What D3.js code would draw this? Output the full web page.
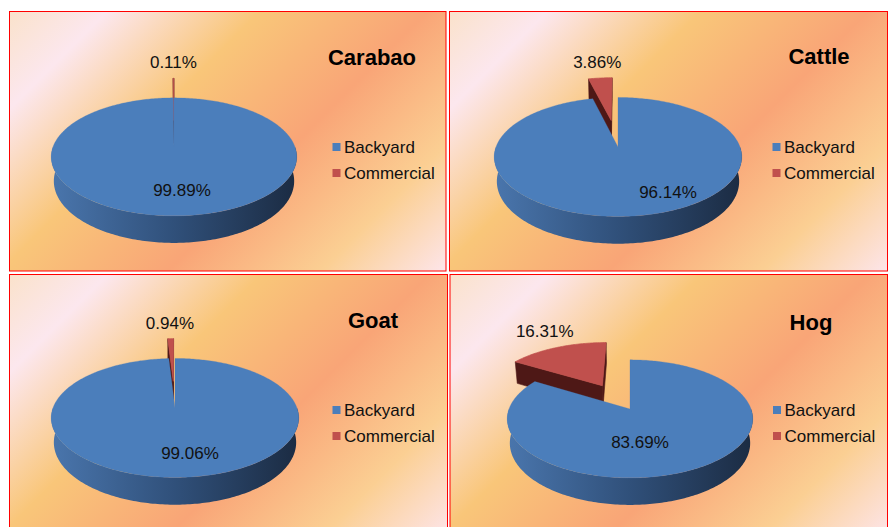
<!DOCTYPE html>
<html>
<head>
<meta charset="utf-8">
<script src="https://cdn.jsdelivr.net/npm/d3@7"></script>
<style>
body {margin: 0; background: #fff;}
svg {display: block; font-family: Arial, "Liberation Sans", sans-serif;}
</style>
</head>
<body>
<svg width="889" height="527"></svg>
<script>
var animals = ["Carabao", "Cattle", "Goat", "Hog"]
var categories = ["Backyard", "Commercial"]
var backyard = [99.89, 96.14, 99.06, 83.69]
var commercial = [0.11, 3.86, 0.94, 16.31]

// page layout of the four boxes (pie centre, radius, title spot, inside label nudge)
var panels = [
    {x: 9.5, y: 11.5, w: 436.5, h: 259.5, cx: 174, cy: 147, r: 121, tx: 372, ty: 57, lab: [8, 43]},
    {x: 449.5, y: 11.5, w: 438, h: 259.5, cx: 618, cy: 147, r: 122, tx: 819, ty: 56, lab: [50, 45]},
    {x: 9.5, y: 274.5, w: 438, h: 262, cx: 175, cy: 408, r: 122, tx: 373, ty: 320, lab: [15, 45]},
    {x: 450, y: 274.5, w: 437.5, h: 262, cx: 630, cy: 409, r: 121, tx: 811, ty: 322, lab: [10, 33]}
]

// fake 3d camera
var sinA = 0.474, cosA = Math.sqrt(1 - sinA * sinA), dist = 5.27, thick = 0.23

var topColor = d3.scaleOrdinal(categories, ["#4b7ebb", "#c0504d"])
var faceColor = d3.scaleOrdinal(categories, ["#2a4466", "#4e1816"])
var explode = d3.scaleOrdinal(categories, [0, 0.5])

var pie = d3.pie().sort(null).value(function(d) {return d.value})
var line = d3.line()

var svg = d3.select("svg")
var defs = svg.append("defs")

var project = function(p, X, Y, Z)
{
    var yp = Y * cosA + Z * sinA
    var d = Z * cosA - Y * sinA
    var f = dist / (dist + d)
    return [p.cx + X * p.r * f, p.cy - yp * p.r * f]
}

var arcPoints = function(p, a0, a1, Y, ox, oz)
{
    var n = Math.max(2, Math.ceil((a1 - a0) / (Math.PI / 180)))
    var pts = []
    for (var k = 0; k <= n; k++)
    {
        var a = a0 + (a1 - a0) * k / n
        pts.push(project(p, ox + Math.sin(a), Y, oz + Math.cos(a)))
    }
    return pts
}

var drawSlice = function(g, p, s, sideFill)
{
    var cat = s.data.cat
    var mid = (s.startAngle + s.endAngle) / 2
    var e = explode(cat)
    var ox = e * Math.sin(mid), oz = e * Math.cos(mid)

    // cut faces
    var faces = [
        {a: s.startAngle, n: [-Math.cos(s.startAngle), Math.sin(s.startAngle)]},
        {a: s.endAngle, n: [Math.cos(s.endAngle), -Math.sin(s.endAngle)]}
    ]
    faces.forEach(function(f)
    {
        var px = ox + 0.5 * Math.sin(f.a), pz = oz + 0.5 * Math.cos(f.a)
        var vis = f.n[0] * (0 - px) + f.n[1] * (-dist * cosA - pz)
        if (vis <= 0) return
        var pts = [
            project(p, ox, 0, oz),
            project(p, ox + Math.sin(f.a), 0, oz + Math.cos(f.a)),
            project(p, ox + Math.sin(f.a), -thick, oz + Math.cos(f.a)),
            project(p, ox, -thick, oz)
        ]
        g.append("path")
            .attr("d", line(pts) + "Z")
            .attr("fill", faceColor(cat))
            .attr("stroke", faceColor(cat))
            .attr("stroke-width", 0.6)
    })

    // outer wall, front half only
    var lo = Math.max(s.startAngle, Math.PI / 2)
    var hi = Math.min(s.endAngle, Math.PI * 1.5)
    if (hi > lo)
    {
        var wall = arcPoints(p, lo, hi, 0, ox, oz)
            .concat(arcPoints(p, lo, hi, -thick, ox, oz).reverse())
        g.append("path")
            .attr("d", line(wall) + "Z")
            .attr("fill", sideFill)
    }

    // top
    var topPts = [project(p, ox, 0, oz)].concat(arcPoints(p, s.startAngle, s.endAngle, 0, ox, oz))
    g.append("path")
        .attr("d", line(topPts) + "Z")
        .attr("fill", topColor(cat))
        .attr("stroke", topColor(cat))
        .attr("stroke-width", cat == "Commercial" ? 0.7 : 0.3)

    return {mid: mid, ox: ox, oz: oz}
}

panels.forEach(function(p, i)
{
    var bg = defs.append("linearGradient")
        .attr("id", "bg" + i)
        .attr("gradientUnits", "userSpaceOnUse")
        .attr("x1", p.x).attr("y1", p.y)
        .attr("x2", p.x + (p.w + p.h) / 2).attr("y2", p.y + (p.w + p.h) / 2)
    var bgStops = [[0, "#fae2cb"], [0.14, "#fce7ee"], [0.36, "#f9c679"], [0.6, "#f9a577"], [0.82, "#fbcf93"], [1, "#fde5ea"]]
    bgStops.forEach(function(st)
    {
        bg.append("stop").attr("offset", st[0]).attr("stop-color", st[1])
    })

    var side = defs.append("linearGradient")
        .attr("id", "side" + i)
        .attr("gradientUnits", "userSpaceOnUse")
        .attr("x1", p.cx - p.r * 1.02).attr("y1", 0)
        .attr("x2", p.cx + p.r * 1.02).attr("y2", 0)
    side.append("stop").attr("offset", 0).attr("stop-color", "#4a76ad")
    side.append("stop").attr("offset", 0.5).attr("stop-color", "#30507a")
    side.append("stop").attr("offset", 1).attr("stop-color", "#1b2b42")

    var g = svg.append("g")

    g.append("rect")
        .attr("x", p.x).attr("y", p.y)
        .attr("width", p.w).attr("height", p.h)
        .attr("fill", "url(#bg" + i + ")")
        .attr("stroke", "#ff0000")
        .attr("stroke-width", 1)

    var rows = categories.map(function(c, j)
    {
        return {cat: c, value: j == 0 ? backyard[i] : commercial[i]}
    })
    var slices = pie(rows)

    // exploded commercial slice sits behind, so it goes first
    var info = {}
    slices.slice().reverse().forEach(function(s)
    {
        var sideFill = s.data.cat == "Backyard" ? "url(#side" + i + ")" : "#8a3533"
        info[s.data.cat] = drawSlice(g, p, s, sideFill)
    })

    // labels
    var red = info["Commercial"]
    var outer = project(p, red.ox + Math.sin(red.mid), 0, red.oz + Math.cos(red.mid))
    g.append("text")
        .attr("x", outer[0] + Math.sin(red.mid) * 25)
        .attr("y", outer[1] - 16)
        .attr("dy", "0.35em")
        .attr("text-anchor", "middle")
        .attr("font-size", "17px")
        .attr("fill", "#111")
        .text(commercial[i].toFixed(2) + "%")

    g.append("text")
        .attr("x", p.cx + p.lab[0])
        .attr("y", p.cy + p.lab[1])
        .attr("dy", "0.35em")
        .attr("text-anchor", "middle")
        .attr("font-size", "17px")
        .attr("fill", "#111")
        .text(backyard[i].toFixed(2) + "%")

    // title
    g.append("text")
        .attr("x", p.tx)
        .attr("y", p.ty)
        .attr("dy", "0.35em")
        .attr("text-anchor", "middle")
        .attr("font-size", "22px")
        .attr("font-weight", "bold")
        .attr("fill", "#000")
        .text(animals[i])

    // legend
    var rowY = d3.scalePoint().domain(categories).range([0, 26])
    var leg = g.append("g").attr("transform", "translate(" + (p.x + 323) + "," + (p.y + 135.5) + ")")
    var item = leg.selectAll("g")
        .data(categories)
        .enter()
        .append("g")
        .attr("transform", function(c) {return "translate(0," + rowY(c) + ")"})
    item.append("rect")
        .attr("x", 0).attr("y", -4)
        .attr("width", 8).attr("height", 8)
        .attr("fill", function(c) {return topColor(c)})
    item.append("text")
        .attr("x", 11.5)
        .attr("y", 0)
        .attr("dy", "0.35em")
        .attr("font-size", "17px")
        .attr("fill", "#111")
        .text(function(c) {return c})
})
</script>
</body>
</html>
